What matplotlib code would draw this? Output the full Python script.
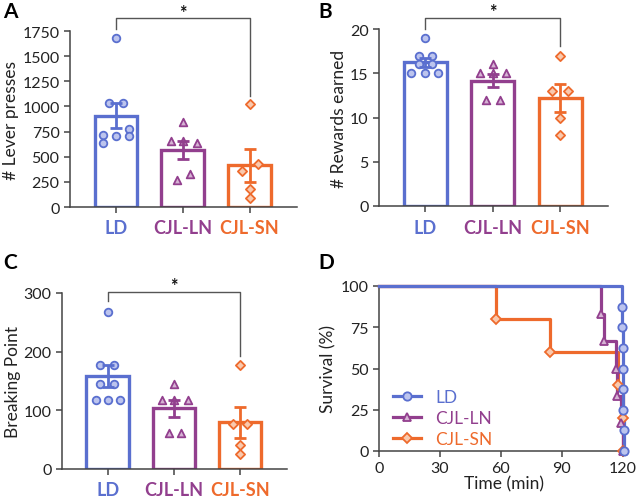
import numpy as np
import matplotlib
matplotlib.use("Agg")
import matplotlib.pyplot as plt
from matplotlib.lines import Line2D

plt.rcParams['font.family'] = ['Lato', 'DejaVu Sans']

groups = ['LD', 'CJL-LN', 'CJL-SN']
colors = ['#5a6fcf', '#923f8e', '#ee6a2c']
fills = ['#bcc4ee', '#d6b3d4', '#f9c9ae']
markers = ['o', '^', 'D']

# panel A: lever presses
lever_ld = [1680, 1030, 1030, 713, 640, 703, 779, 703]
lever_ln = [845, 653, 655, 640, 272, 325]
lever_sn = [1024, 358, 424, 176, 93]

# panel B: rewards earned
reward_ld = [19, 17, 17, 16, 16, 15, 15, 15]
reward_ln = [16, 15, 15, 15, 12, 12]
reward_sn = [17, 13, 13, 10, 8]

# panel C: breaking point
bp_ld = [268, 178, 178, 145, 145, 118, 118, 118]
bp_ln = [145, 118, 118, 118, 61, 61]
bp_sn = [178, 77, 77, 41, 26]

# horizontal spread of the dots (category units)
jit_a = [[0, -0.11, 0.10, -0.2, -0.2, 0, 0.2, 0.2],
         [0, -0.18, 0, 0.21, -0.09, 0.11],
         [0, -0.11, 0.12, 0, 0]]
jit_b = [[0, -0.1, 0.09, -0.1, 0.09, -0.21, 0, 0.18],
         [0, -0.19, 0, 0.19, -0.1, 0.11],
         [0, -0.12, 0.12, 0, 0]]
jit_c = [[0, -0.11, 0.1, -0.11, 0.1, -0.18, 0, 0.19],
         [0, -0.18, 0, 0.21, -0.08, 0.11],
         [0, -0.11, 0.11, 0, 0]]

# panel D: survival
ld_t = [0, 119.6, 119.7, 119.8, 119.9, 120.1, 120.2, 120.3, 120.5]
ld_s = [100, 87.5, 75, 62.5, 50, 37.5, 25, 12.5, 0]
ln_t = [0, 109.3, 110.7, 116.4, 117.2, 119.2, 120.0]
ln_s = [100, 83.3, 66.7, 50, 33.3, 16.7, 0]
sn_t = [0, 57.7, 83.9, 117.5, 119.8, 120.2]
sn_s = [100, 80, 60, 40, 20, 0]

spine_col = '#444444'


def style_axes(ax):
    ax.spines['right'].set_visible(False)
    ax.spines['top'].set_visible(False)
    for s in ['left', 'bottom']:
        ax.spines[s].set_color(spine_col)
        ax.spines[s].set_linewidth(1.1)
    ax.tick_params(colors=spine_col, labelcolor='#222222', width=1.1,
                   length=4, labelsize=11.5)


def bar_panel(ax, data, jit, ylim, yticks, ylabel, sig):
    x = np.arange(3)
    for i, vals in enumerate(data):
        vals = np.array(vals, dtype=float)
        m = vals.mean()
        sem = vals.std(ddof=1) / np.sqrt(len(vals))
        ax.bar(x[i], m, width=0.64, facecolor='white', edgecolor=colors[i],
               linewidth=2.4, zorder=2)
        ax.scatter(x[i] + np.array(jit[i]), vals, marker=markers[i],
                   s=30 if markers[i] != 'D' else 22, facecolor=fills[i],
                   edgecolor=colors[i], linewidth=1.3, zorder=3,
                   clip_on=False)
        ax.errorbar(x[i], m, yerr=sem, color=colors[i], capsize=4.5,
                    elinewidth=2, capthick=2, zorder=4)
    ax.set_xlim(-0.69, 2.71)
    ax.set_ylim(*ylim)
    ax.set_yticks(yticks)
    ax.set_xticks(x)
    ax.set_xticklabels(groups, fontweight='bold', fontsize=13)
    style_axes(ax)
    for lab, c in zip(ax.get_xticklabels(), colors):
        lab.set_color(c)
        lab.set_fontsize(13)
    ax.tick_params(axis='x', pad=5)
    ax.set_ylabel(ylabel, fontsize=12.5, color='#222222', labelpad=2)
    # significance bracket LD vs CJL-SN
    yb, yl, yr, ys = sig
    ax.plot([0, 0, 2, 2], [yl, yb, yb, yr], color='#555555', lw=1,
            clip_on=False, zorder=5)
    ax.text(1, ys, '*', ha='center', va='center', fontsize=13,
            fontweight='bold', color='#111111', clip_on=False)


fig = plt.figure(figsize=(6.4, 5.02), dpi=100)
W, H = 640, 502


def add_ax(l, r, b, t):
    return fig.add_axes([l / W, 1 - b / H, (r - l) / W, (b - t) / H])


axA = add_ax(70, 297, 208, 32)
axB = add_ax(379, 608, 207, 30)
axC = add_ax(62, 287, 470, 294)
axD = add_ax(379, 628, 452, 287)

bar_panel(axA, [lever_ld, lever_ln, lever_sn], jit_a, (0, 1750),
          np.arange(0, 1751, 250), '# Lever presses', (1880, 1770, 1104, 1935))
bar_panel(axB, [reward_ld, reward_ln, reward_sn], jit_b, (0, 20),
          [0, 5, 10, 15, 20], '# Rewards earned', (21.2, 20.0, 18.1, 21.95))
bar_panel(axC, [bp_ld, bp_ln, bp_sn], jit_c, (0, 300),
          [0, 100, 200, 300], 'Breaking Point', (301.5, 286, 192, 312))

# survival panel
series = [(ld_t, ld_s), (ln_t, ln_s), (sn_t, sn_s)]
for i in [2, 1, 0]:
    t, s = series[i]
    axD.plot(t, s, drawstyle='steps-post', color=colors[i], lw=2.3,
             zorder=2 + (2 - i), clip_on=False)
    axD.plot(t[1:], s[1:], linestyle='none', marker=markers[i],
             markersize=6 if markers[i] != 'D' else 5,
             markerfacecolor=fills[i], markeredgecolor=colors[i],
             markeredgewidth=1.3, zorder=5 + (2 - i), clip_on=False)
axD.set_xlim(0, 122.5)
axD.set_ylim(0, 100)
axD.set_xticks([0, 30, 60, 90, 120])
axD.set_yticks([0, 25, 50, 75, 100])
axD.set_xlabel('Time (min)', fontsize=12.5, color='#222222', labelpad=0)
axD.set_ylabel('Survival (%)', fontsize=12.5, color='#222222', labelpad=3)
style_axes(axD)

handles = [Line2D([], [], color=colors[i], lw=2.3, marker=markers[i],
                  markersize=6 if markers[i] != 'D' else 5,
                  markerfacecolor=fills[i], markeredgecolor=colors[i],
                  markeredgewidth=1.3) for i in range(3)]
leg = axD.legend(handles, groups, loc='lower left', frameon=False,
                 fontsize=12.5, handlelength=1.6, handletextpad=0.8,
                 labelspacing=0.3, borderaxespad=0,
                 bbox_to_anchor=(0.03, -0.02))
for txt, c in zip(leg.get_texts(), colors):
    txt.set_color(c)

for letter, x, y in [('A', 3, 12), ('B', 318, 12), ('C', 3, 263),
                     ('D', 318, 263)]:
    fig.text(x / W, 1 - y / H, letter, fontsize=15, fontweight='bold',
             va='center', ha='left')

fig.savefig('out.png', dpi=100)
